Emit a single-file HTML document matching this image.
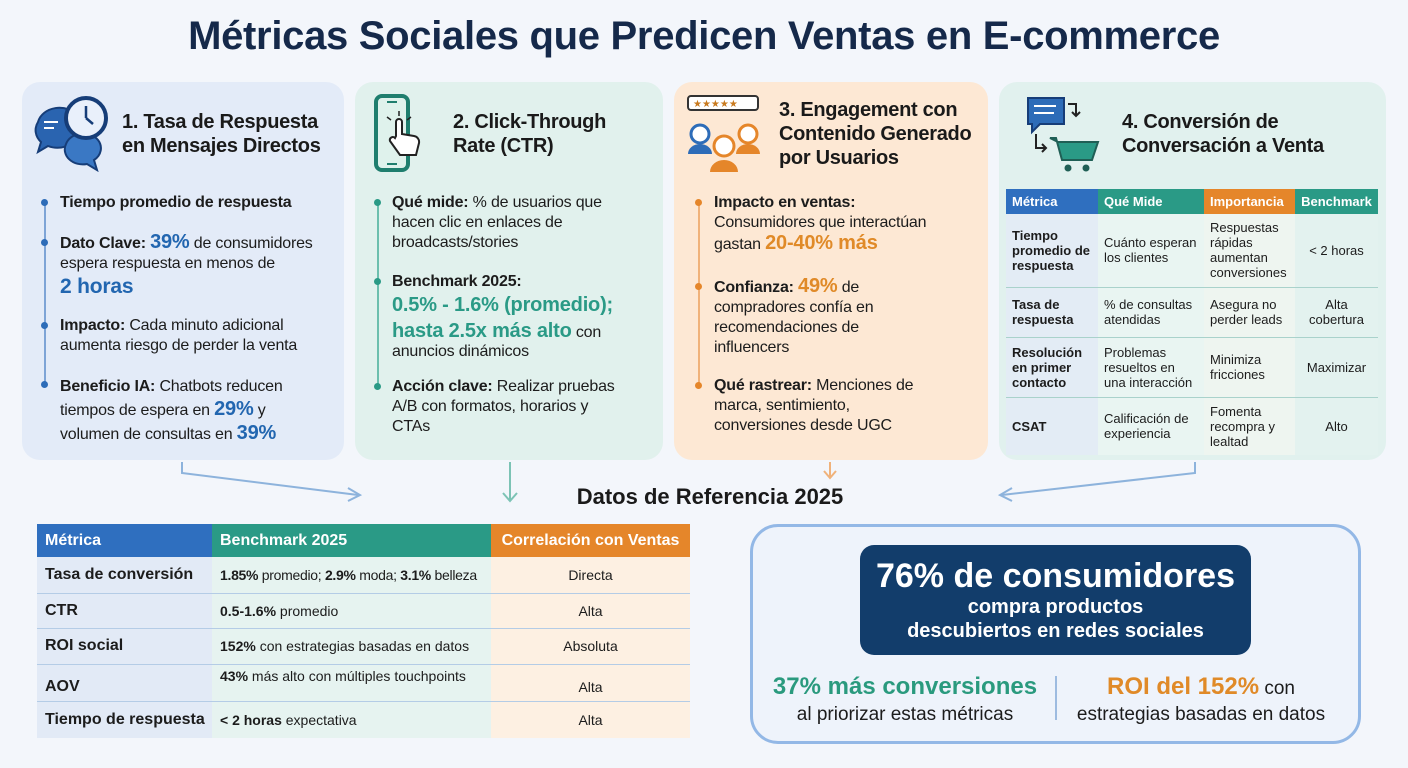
<!DOCTYPE html>
<html><head><meta charset="utf-8"><style>
*{margin:0;padding:0;box-sizing:border-box}
body{width:1408px;height:768px;background:#f3f6fb;font-family:"Liberation Sans",sans-serif;color:#1c1c1c;position:relative;overflow:hidden}
.a{position:absolute}
h1{position:absolute;left:0;width:1408px;top:14px;text-align:center;font-size:40px;font-weight:bold;color:#15294a;letter-spacing:-0.3px}
.card{position:absolute;top:82px;height:378px;border-radius:18px}
.hd{position:absolute;font-size:20px;font-weight:bold;line-height:24px;color:#1a1a1a;letter-spacing:-0.3px}
.bl{position:absolute;font-size:16px;line-height:20px;letter-spacing:-0.2px}
.dot{position:absolute;width:7px;height:7px;border-radius:50%}
.vl{position:absolute;width:1.5px}
b{font-weight:bold}
table{border-collapse:collapse;position:absolute}
td{padding:0 6px;vertical-align:middle}
.bt td{white-space:nowrap}
</style></head><body>
<h1>Métricas Sociales que Predicen Ventas en E-commerce</h1>

<!-- Card 1 -->
<div class="card" style="left:22px;width:322px;background:#e3ebf8"></div>
<svg class="a" style="left:32px;top:92px" width="80" height="80" viewBox="0 0 80 80">
<path d="M6 30 a22 18 0 0 1 40 -6 v20 a22 18 0 0 1 -30 10 l-10 6 l3 -10 a22 18 0 0 1 -3 -20z" fill="#2a64b0" stroke="#163d78" stroke-width="2"/>
<path d="M34 52 a18 15 0 0 1 32 -4 a18 15 0 0 1 -4 20 l3 10 l-10 -6 a18 15 0 0 1 -21 -20z" fill="#3a78c4" stroke="#163d78" stroke-width="2"/>
<line x1="12" y1="30" x2="26" y2="30" stroke="#fff" stroke-width="2"/><line x1="12" y1="36" x2="22" y2="36" stroke="#fff" stroke-width="2"/>
<circle cx="54" cy="26" r="20" fill="#e9f0fb" stroke="#163d78" stroke-width="4"/>
<line x1="54" y1="26" x2="54" y2="14" stroke="#163d78" stroke-width="2.5"/><line x1="54" y1="26" x2="61" y2="32" stroke="#163d78" stroke-width="2.5"/>
</svg>
<div class="hd" style="left:122px;top:110px">1. Tasa de Respuesta<br>en Mensajes Directos</div>
<div class="vl" style="left:44px;top:205px;height:180px;background:#7ea4d6"></div>
<div class="dot" style="left:41px;top:199px;background:#2d6cb8"></div>
<div class="dot" style="left:41px;top:239px;background:#2d6cb8"></div>
<div class="dot" style="left:41px;top:322px;background:#2d6cb8"></div>
<div class="dot" style="left:41px;top:381px;background:#2d6cb8"></div>
<div class="bl" style="left:60px;top:193px"><b>Tiempo promedio de respuesta</b></div>
<div class="bl" style="left:60px;top:232px"><b>Dato Clave:</b> <b style="color:#2266b0;font-size:20px">39%</b> de consumidores<br>espera respuesta en menos de<br><b style="color:#2266b0;font-size:21px;line-height:26px">2 horas</b></div>
<div class="bl" style="left:60px;top:316px"><b>Impacto:</b> Cada minuto adicional<br>aumenta riesgo de perder la venta</div>
<div class="bl" style="left:60px;top:375px;line-height:23px"><b>Beneficio IA:</b> Chatbots reducen<br>tiempos de espera en <b style="color:#2266b0;font-size:20px">29%</b> y<br>volumen de consultas en <b style="color:#2266b0;font-size:20px">39%</b></div>

<!-- Card 2 -->
<div class="card" style="left:355px;width:308px;background:#e1f1ed"></div>
<svg class="a" style="left:372px;top:94px" width="70" height="80" viewBox="0 0 70 80">
<rect x="4" y="2" width="32" height="74" rx="6" fill="#dff2ec" stroke="#1f7e6e" stroke-width="4"/>
<line x1="15" y1="8" x2="25" y2="8" stroke="#1f7e6e" stroke-width="2"/><line x1="15" y1="70" x2="25" y2="70" stroke="#1f7e6e" stroke-width="2"/>
<path d="M24 42 v-14 a3 3 0 0 1 6 0 v12 l12 2 a6 6 0 0 1 5 7 l-3 12 h-16 l-10 -14 a3 3 0 0 1 5 -3z" fill="#fff" stroke="#222" stroke-width="2"/>
<path d="M27 22 v-5 M19 26 l-4 -3 M35 26 l4 -3" stroke="#222" stroke-width="1.5"/>
</svg>
<div class="hd" style="left:453px;top:110px">2. Click-Through<br>Rate (CTR)</div>
<div class="vl" style="left:377px;top:205px;height:180px;background:#6cbfae"></div>
<div class="dot" style="left:374px;top:199px;background:#2a9a86"></div>
<div class="dot" style="left:374px;top:278px;background:#2a9a86"></div>
<div class="dot" style="left:374px;top:383px;background:#2a9a86"></div>
<div class="bl" style="left:392px;top:193px"><b>Qué mide:</b> % de usuarios que<br>hacen clic en enlaces de<br>broadcasts/stories</div>
<div class="bl" style="left:392px;top:272px"><b>Benchmark 2025:</b></div>
<div class="bl" style="left:392px;top:293px;line-height:24px"><b style="color:#2a9a86;font-size:20px">0.5% - 1.6% (promedio);<br>hasta 2.5x más alto</b> con</div>
<div class="bl" style="left:392px;top:342px">anuncios dinámicos</div>
<div class="bl" style="left:392px;top:377px"><b>Acción clave:</b> Realizar pruebas<br>A/B con formatos, horarios y<br>CTAs</div>

<!-- Card 3 -->
<div class="card" style="left:674px;width:314px;background:#fde8d4"></div>
<svg class="a" style="left:686px;top:94px" width="78" height="80" viewBox="0 0 78 80">
<rect x="2" y="2" width="70" height="14" rx="3" fill="#fff" stroke="#333" stroke-width="2"/>
<text x="7" y="13" font-size="10" fill="#c97a1e" font-family="DejaVu Sans">★★★★★</text>
<circle cx="14" cy="40" r="9" fill="#fff" stroke="#2d6cb8" stroke-width="3"/><path d="M2 60 a12 10 0 0 1 24 0z" fill="#2d6cb8"/>
<circle cx="62" cy="40" r="9" fill="#fff" stroke="#e5862a" stroke-width="3"/><path d="M50 60 a12 10 0 0 1 24 0z" fill="#e5862a"/>
<circle cx="38" cy="52" r="10" fill="#fff" stroke="#e5862a" stroke-width="3"/><path d="M24 78 a14 12 0 0 1 28 0z" fill="#e5862a"/>
</svg>
<div class="hd" style="left:779px;top:98px">3. Engagement con<br>Contenido Generado<br>por Usuarios</div>
<div class="vl" style="left:698px;top:205px;height:180px;background:#f0b27a"></div>
<div class="dot" style="left:695px;top:199px;background:#e5862a"></div>
<div class="dot" style="left:695px;top:283px;background:#e5862a"></div>
<div class="dot" style="left:695px;top:382px;background:#e5862a"></div>
<div class="bl" style="left:714px;top:193px"><b>Impacto en ventas:</b><br>Consumidores que interactúan<br>gastan <b style="color:#e08a28;font-size:20px">20-40% más</b></div>
<div class="bl" style="left:714px;top:276px"><b>Confianza:</b> <b style="color:#e08a28;font-size:20px">49%</b> de<br>compradores confía en<br>recomendaciones de<br>influencers</div>
<div class="bl" style="left:714px;top:376px"><b>Qué rastrear:</b> Menciones de<br>marca, sentimiento,<br>conversiones desde UGC</div>

<!-- Card 4 -->
<div class="card" style="left:999px;width:387px;background:#e1f1ee"></div>
<svg class="a" style="left:1024px;top:94px" width="84" height="80" viewBox="0 0 84 80">
<path d="M4 4 h36 v26 h-24 l-8 8 v-8 h-4z" fill="#2d6cb8" stroke="#163d78" stroke-width="2"/>
<line x1="10" y1="12" x2="32" y2="12" stroke="#fff" stroke-width="2"/><line x1="10" y1="19" x2="30" y2="19" stroke="#fff" stroke-width="2"/>
<path d="M44 10 h8 v12 M48 18 l4 4 l4 -4" fill="none" stroke="#222" stroke-width="2"/>
<path d="M12 40 v14 h10 M18 50 l4 4 l-4 4" fill="none" stroke="#222" stroke-width="2"/>
<path d="M26 44 h6 l6 22 h30 l6 -18 h-40z" fill="#2a9a86" stroke="#1f5f55" stroke-width="2"/>
<circle cx="44" cy="74" r="3.5" fill="#1f5f55"/><circle cx="62" cy="74" r="3.5" fill="#1f5f55"/>
</svg>
<div class="hd" style="left:1122px;top:110px">4. Conversión de<br>Conversación a Venta</div>
<table style="left:1006px;top:189px;width:372px;font-size:13px;line-height:15px">
<tr style="height:25px;color:#fff;font-weight:bold"><td style="background:#2f6fbf;width:92px">Métrica</td><td style="background:#2a9a86;width:106px">Qué Mide</td><td style="background:#e5862a;width:91px">Importancia</td><td style="background:#2a9a86;text-align:center">Benchmark</td></tr>
<tr style="height:73px;border-bottom:1.5px solid #a9d2cb"><td style="background:#e3ecf5"><b>Tiempo promedio de respuesta</b></td><td style="background:#e9f5f2">Cuánto esperan los clientes</td><td style="background:#eef5f0">Respuestas rápidas aumentan conversiones</td><td style="background:#e3f2ef;text-align:center">&lt; 2 horas</td></tr>
<tr style="height:50px;border-bottom:1.5px solid #a9d2cb"><td style="background:#e3ecf5"><b>Tasa de respuesta</b></td><td style="background:#e9f5f2">% de consultas atendidas</td><td style="background:#eef5f0">Asegura no perder leads</td><td style="background:#e3f2ef;text-align:center">Alta cobertura</td></tr>
<tr style="height:60px;border-bottom:1.5px solid #a9d2cb"><td style="background:#e3ecf5"><b>Resolución en primer contacto</b></td><td style="background:#e9f5f2">Problemas resueltos en una interacción</td><td style="background:#eef5f0">Minimiza fricciones</td><td style="background:#e3f2ef;text-align:center">Maximizar</td></tr>
<tr style="height:58px"><td style="background:#e3ecf5"><b>CSAT</b></td><td style="background:#e9f5f2">Calificación de experiencia</td><td style="background:#eef5f0">Fomenta recompra y lealtad</td><td style="background:#e3f2ef;text-align:center">Alto</td></tr>
</table>

<!-- arrows -->
<svg class="a" style="left:0;top:455px" width="1408" height="60">
<g stroke="#8db3dc" stroke-width="2" fill="none">
<path d="M182 7 V18 L358 40"/><path d="M348 33 L360 40 L348 46"/>
<path d="M1195 7 V18 L1002 40"/><path d="M1012 33 L1000 40 L1012 46"/>
</g>
<g stroke="#7cc3b5" stroke-width="2" fill="none"><path d="M510 7 V45"/><path d="M503 38 L510 46 L517 38"/></g>
<g stroke="#f0b27a" stroke-width="2" fill="none"><path d="M830 7 V22"/><path d="M824 16 L830 23 L836 16"/></g>
</svg>
<div class="a" style="left:0;width:1420px;top:484px;text-align:center;font-size:22px;font-weight:bold;color:#1a1a1a">Datos de Referencia 2025</div>

<!-- bottom table -->
<table class="bt" style="left:37px;top:524px;width:653px;font-size:15px;table-layout:fixed">
<tr style="height:33px;color:#fff;font-weight:bold;font-size:16px"><td style="background:#2f6fbf;width:175px;padding-left:8px">Métrica</td><td style="background:#2a9a86;width:279px;padding-left:8px">Benchmark 2025</td><td style="background:#e5862a;text-align:center">Correlación con Ventas</td></tr>
<tr style="height:36px;border-bottom:1.5px solid #b4cce6"><td style="background:#e2eaf6;padding-left:8px;font-size:16px"><b>Tasa de conversión</b></td><td style="background:#e6f3f0;padding-left:8px;font-size:14px;letter-spacing:-0.3px"><b>1.85%</b> promedio; <b>2.9%</b> moda; <b>3.1%</b> belleza</td><td style="background:#fdf0e2;text-align:center;font-size:14px">Directa</td></tr>
<tr style="height:35px;border-bottom:1.5px solid #b4cce6"><td style="background:#e2eaf6;padding-left:8px;font-size:16px"><b>CTR</b></td><td style="background:#e6f3f0;padding-left:8px;font-size:14px"><b>0.5-1.6%</b> promedio</td><td style="background:#fdf0e2;text-align:center;font-size:14px">Alta</td></tr>
<tr style="height:36px;border-bottom:1.5px solid #b4cce6"><td style="background:#e2eaf6;padding-left:8px;font-size:16px"><b>ROI social</b></td><td style="background:#e6f3f0;padding-left:8px;font-size:14px"><b>152%</b> con estrategias basadas en datos</td><td style="background:#fdf0e2;text-align:center;font-size:14px">Absoluta</td></tr>
<tr style="height:37px;border-bottom:1.5px solid #b4cce6"><td style="background:#e2eaf6;padding-left:8px;font-size:16px;padding-top:8px"><b>AOV</b></td><td style="background:#e6f3f0;padding-left:8px;font-size:14px;vertical-align:top;padding-top:3px"><b>43%</b> más alto con múltiples touchpoints</td><td style="background:#fdf0e2;text-align:center;font-size:14px;padding-top:8px">Alta</td></tr>
<tr style="height:37px"><td style="background:#e2eaf6;padding-left:8px;font-size:16px"><b>Tiempo de respuesta</b></td><td style="background:#e6f3f0;padding-left:8px;font-size:14px"><b>&lt; 2 horas</b> expectativa</td><td style="background:#fdf0e2;text-align:center;font-size:14px">Alta</td></tr>
</table>

<!-- right box -->
<div class="a" style="left:750px;top:524px;width:611px;height:220px;border:3px solid #93b8e6;border-radius:28px;background:#eef3fb"></div>
<div class="a" style="left:860px;top:545px;width:391px;height:110px;border-radius:14px;background:#123d6b;color:#fff;text-align:center">
<div style="font-size:34px;font-weight:bold;margin-top:12px;line-height:38px">76% de consumidores</div>
<div style="font-size:20px;font-weight:bold;line-height:24px">compra productos<br>descubiertos en redes sociales</div>
</div>
<div class="a" style="left:755px;width:300px;top:674px;text-align:center;font-size:19px;line-height:26px">
<b style="color:#2a9a7e;font-size:24px">37% más conversiones</b><br>al priorizar estas métricas</div>
<div class="a" style="left:1055px;top:676px;width:1.5px;height:44px;background:#9dbbe0"></div>
<div class="a" style="left:1056px;width:290px;top:674px;text-align:center;font-size:19px;line-height:26px">
<b style="color:#e08a28;font-size:24px">ROI del 152%</b> con<br>estrategias basadas en datos</div>
</body></html>
